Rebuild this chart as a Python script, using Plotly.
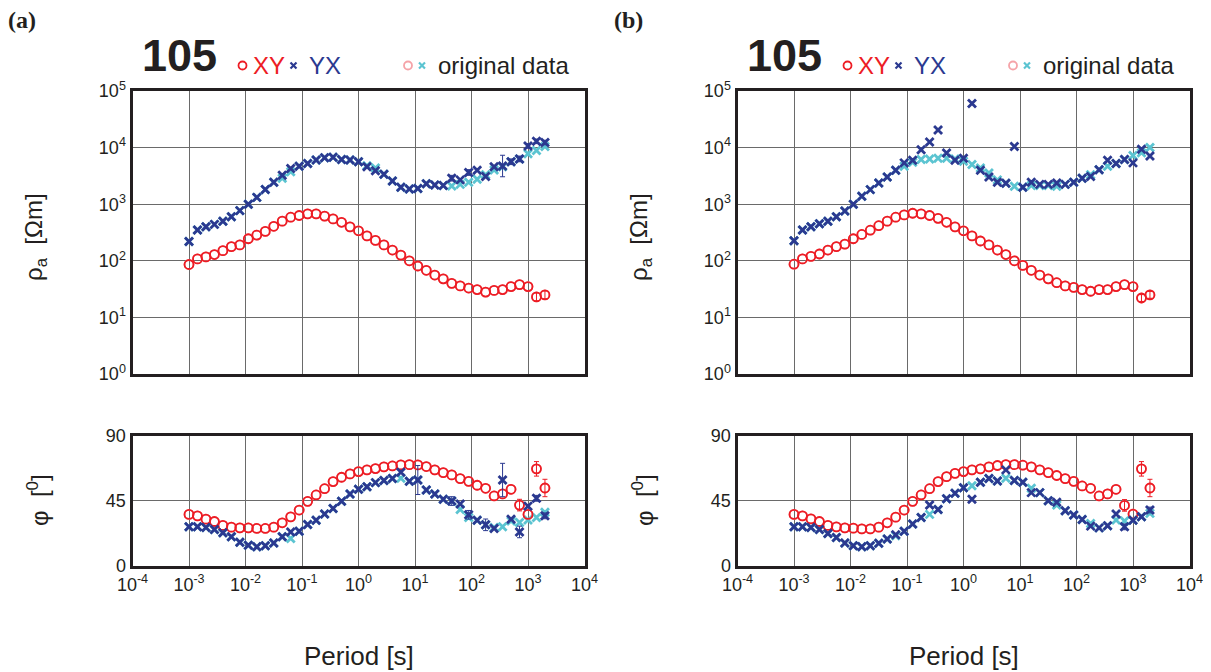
import plotly.graph_objects as go

# ---------------- data ----------------
period = [0.001, 0.001413, 0.001995, 0.002818, 0.003981, 0.005623, 0.007943,
          0.01122, 0.01585, 0.02239, 0.03162, 0.04467, 0.0631, 0.08913,
          0.1259, 0.1778, 0.2512, 0.3548, 0.5012, 0.7079, 1.0, 1.413, 1.995,
          2.818, 3.981, 5.623, 7.943, 11.22, 15.85, 22.39, 31.62, 44.67, 63.1,
          89.13, 125.9, 177.8, 251.2, 354.8, 501.2, 707.9, 1000, 1413, 1995]

# panel (a)
rho_xy_a = [86, 108, 117, 129, 151, 178, 191, 245, 285, 331, 407, 501, 589, 631,
            676, 676, 617, 550, 479, 398, 339, 275, 229, 191, 155, 126, 100, 81,
            68, 56, 48, 40, 36, 33, 31, 28, 30, 31, 35, 38, 35, 23, 25]
rho_yx_a = [220, 350, 400, 440, 500, 600, 770, 1000, 1320, 1820, 2450, 3240, 4270,
            4680, 5250, 6030, 6610, 6760, 6170, 6030, 5620, 4570, 3890, 3390, 2570,
            2000, 1860, 1900, 2290, 2190, 2140, 2880, 2690, 3630, 3980, 3090, 4570,
            4730, 5620, 6310, 10700, 12900, 12300]
rho_yx_orig_a = [220, 350, 400, 440, 500, 600, 770, 1000, 1320, 1820, 2450, 2880,
                 3760, 4680, 5250, 6030, 6610, 6760, 6170, 6030, 5620, 4790, 4370,
                 3390, 2570, 2000, 1860, 1900, 2290, 2190, 2140, 2090, 2240, 2450,
                 2750, 3310, 4030, 4570, 5620, 6310, 7760, 8910, 10470]
phs_xy_a = [35.6, 34.6, 32.3, 30.7, 28.0, 26.8, 26.3, 26.3, 25.9, 25.9,
            26.8, 29.8, 33.9, 38.6, 44.6, 49.0, 53.3, 58.2, 61.2, 63.5,
            65.1, 66.3, 67.2, 68.4, 69.0, 69.7, 69.9, 69.7, 68.6, 66.3,
            64.4, 62.8, 60.3, 58.4, 55.7, 53.6, 48.3, 49.7, 52.9, 42.0,
            35.6, 67.0, 53.8]
phs_yx_a = [27.0, 27.0, 26.6, 25.2, 22.9, 20.1, 16.4, 14.3, 13.2, 13.9,
            15.9, 20.1, 23.5, 24.0, 28.7, 31.6, 35.8, 39.7, 44.6, 49.7,
            52.9, 54.7, 57.5, 58.9, 60.3, 64.7, 58.4, 59.3, 52.4, 49.7,
            46.0, 44.8, 42.7, 35.3, 31.6, 28.4, 25.9, 59.3, 32.3, 23.5,
            41.3, 46.7, 34.6]
phs_yx_orig_a = [27.0, 27.0, 26.6, 25.2, 22.9, 20.1, 16.4, 14.3, 13.2, 13.9,
                 15.9, 20.1, 18.9, 24.0, 28.7, 31.6, 35.8, 39.7, 44.6, 49.7,
                 52.9, 54.7, 57.5, 58.9, 60.3, 60.5, 58.4, 59.3, 52.4, 49.7,
                 46.0, 44.8, 39.0, 33.5, 31.6, 28.4, 26.6, 27.0, 31.0, 30.0,
                 31.7, 33.5, 37.0]

# panel (b)
rho_xy_b = [87, 108, 120, 132, 155, 178, 197, 245, 292, 347, 417, 501, 589, 646,
            692, 676, 631, 562, 479, 398, 339, 275, 224, 191, 155, 129, 100, 83,
            68, 56, 48, 41, 36, 34, 31, 29, 31, 31, 35, 38, 35, 22, 25]
rho_yx_b = [226, 350, 400, 450, 500, 600, 760, 1000, 1380, 1810, 2370, 3020, 3980,
            5370, 5970, 9120, 12600, 20400, 8050, 5970, 6460, 60300, 3980, 3020,
            2450, 2340, 10500, 2000, 2450, 2240, 2240, 2370, 2240, 2450, 2880, 3090,
            4070, 5970, 5250, 6170, 5370, 9330, 7080]
rho_yx_orig_b = [226, 350, 400, 450, 500, 600, 760, 1000, 1380, 1810, 2370, 3020,
                 3980, 4680, 5500, 6170, 6310, 6460, 6460, 6310, 5750, 5010, 4370,
                 3550, 2690, 2340, 2070, 2000, 2140, 2140, 2140, 2070, 2240, 2450,
                 2880, 3310, 4070, 4680, 5250, 6170, 7240, 8130, 10000]
phs_xy_b = [35.6, 34.6, 32.5, 30.7, 28.0, 27.0, 26.3, 26.1, 25.6, 25.6,
            26.8, 29.8, 33.7, 38.6, 44.6, 49.0, 53.3, 58.2, 61.6, 63.9,
            65.1, 66.3, 67.0, 68.4, 69.3, 69.9, 69.9, 69.5, 68.4, 66.3,
            64.4, 62.4, 60.3, 58.4, 55.2, 53.6, 48.3, 49.7, 52.9, 41.8,
            35.8, 67.0, 53.8]
phs_yx_b = [27.0, 27.0, 26.6, 25.2, 22.4, 19.6, 15.9, 13.9, 13.2, 13.9,
            15.7, 18.7, 21.5, 24.0, 28.9, 33.5, 42.0, 39.0, 46.4, 50.1,
            54.0, 46.0, 57.7, 60.3, 58.7, 66.3, 59.0, 57.7, 50.6, 50.6,
            45.0, 43.9, 38.1, 35.1, 32.1, 27.5, 26.3, 27.7, 35.8, 27.0,
            31.6, 33.9, 38.6]
phs_yx_orig_b = [27.0, 27.0, 26.6, 25.2, 22.4, 19.6, 15.9, 13.9, 13.2, 13.9,
                 15.7, 18.7, 20.8, 24.0, 28.9, 33.5, 35.6, 39.0, 46.4, 50.1,
                 54.0, 55.4, 57.7, 60.3, 58.7, 60.5, 59.0, 57.7, 53.6, 50.6,
                 45.0, 42.0, 38.1, 35.1, 32.1, 29.3, 26.3, 27.7, 31.7, 31.0,
                 31.6, 33.9, 36.3]

# error bars (index -> error); rho errors in log10 units, phase errors in degrees
err_rho_xy_a = {41: 0.07, 42: 0.07}
err_rho_yx_a = {31: 0.05, 33: 0.05, 37: 0.19, 38: 0.05, 39: 0.05, 40: 0.04, 41: 0.04, 42: 0.04}
err_phs_xy_a = {39: 4, 41: 5, 42: 6}
err_phs_yx_a = {27: 10, 31: 3, 33: 3, 35: 4, 37: 11.5, 39: 4, 41: 2, 42: 2}
err_rho_xy_b = {41: 0.06, 42: 0.06}
err_rho_yx_b = {}
err_phs_xy_b = {39: 4, 41: 5, 42: 6}
err_phs_yx_b = {39: 2, 42: 2}

rho_ticks = [1, 10, 100, 1000, 10000, 100000]
rho_ticktext = ["10<sup>0</sup>", "10<sup>1</sup>", "10<sup>2</sup>",
                "10<sup>3</sup>", "10<sup>4</sup>", "10<sup>5</sup>"]
phs_ticks = [0, 45, 90]
phs_ticktext = ["0", "45", "90"]
per_ticks = [1e-4, 1e-3, 1e-2, 1e-1, 1, 10, 100, 1000, 10000]
per_ticktext = ["10<sup>-4</sup>", "10<sup>-3</sup>", "10<sup>-2</sup>",
                "10<sup>-1</sup>", "10<sup>0</sup>", "10<sup>1</sup>",
                "10<sup>2</sup>", "10<sup>3</sup>", "10<sup>4</sup>"]

# ---------------- styles ----------------
W, H = 1211, 672
RED = "#ed1c24"
BLUE = "#2b3990"
CYAN = "#5bc4d1"
PINK = "#f5a3a8"
INK = "#231f20"
GRID = "#6a6a6a"
FONT = "Liberation Sans, Arial, sans-serif"


def px(x):
    return x / W


def py(y):
    return 1 - y / H


fig = go.Figure()

panels = [
    dict(ax=("x", "y", "x2", "y2"), rxy=rho_xy_a, ryx=rho_yx_a, ryxo=rho_yx_orig_a,
         pxy=phs_xy_a, pyx=phs_yx_a, pyxo=phs_yx_orig_a,
         e=(err_rho_xy_a, err_rho_yx_a, err_phs_xy_a, err_phs_yx_a)),
    dict(ax=("x3", "y3", "x4", "y4"), rxy=rho_xy_b, ryx=rho_yx_b, ryxo=rho_yx_orig_b,
         pxy=phs_xy_b, pyx=phs_yx_b, pyxo=phs_yx_orig_b,
         e=(err_rho_xy_b, err_rho_yx_b, err_phs_xy_b, err_phs_yx_b)),
]

CW, XW = 1.8, 2.8


def circ(color):
    return dict(symbol="circle-open", size=9, color=color, line=dict(width=CW, color=color))


def xmk(color):
    return dict(symbol="x-thin", size=8, color=color, line=dict(width=XW, color=color))


def add_err(vals, d, xa, ya, color, logscale):
    if not d:
        return
    idx = sorted(d)
    xs = [period[i] for i in idx]
    ys = [vals[i] for i in idx]
    if logscale:
        plus = [vals[i] * (10 ** d[i] - 1) for i in idx]
        minus = [vals[i] * (1 - 10 ** -d[i]) for i in idx]
    else:
        plus = [d[i] for i in idx]
        minus = plus
    fig.add_trace(go.Scatter(x=xs, y=ys, mode="markers", xaxis=xa, yaxis=ya,
                             marker=dict(size=1, opacity=0), hoverinfo="skip",
                             error_y=dict(type="data", array=plus, arrayminus=minus,
                                          symmetric=False, visible=True, color=color,
                                          thickness=1, width=2.5)))


for p in panels:
    xr, yr, xp, yp = p["ax"]
    erx, ery, epx, epy = p["e"]
    # original data (underneath)
    fig.add_trace(go.Scatter(x=period, y=p["rxy"], mode="markers", xaxis=xr, yaxis=yr, marker=circ(PINK)))
    fig.add_trace(go.Scatter(x=period, y=p["ryxo"], mode="markers", xaxis=xr, yaxis=yr, marker=xmk(CYAN)))
    fig.add_trace(go.Scatter(x=period, y=p["pxy"], mode="markers", xaxis=xp, yaxis=yp, marker=circ(PINK)))
    fig.add_trace(go.Scatter(x=period, y=p["pyxo"], mode="markers", xaxis=xp, yaxis=yp, marker=xmk(CYAN)))
    # processed data
    fig.add_trace(go.Scatter(x=period, y=p["rxy"], mode="markers", xaxis=xr, yaxis=yr, marker=circ(RED)))
    fig.add_trace(go.Scatter(x=period, y=p["ryx"], mode="markers", xaxis=xr, yaxis=yr, marker=xmk(BLUE)))
    fig.add_trace(go.Scatter(x=period, y=p["pxy"], mode="markers", xaxis=xp, yaxis=yp, marker=circ(RED)))
    fig.add_trace(go.Scatter(x=period, y=p["pyx"], mode="markers", xaxis=xp, yaxis=yp, marker=xmk(BLUE)))
    add_err(p["rxy"], erx, xr, yr, RED, True)
    add_err(p["ryx"], ery, xr, yr, BLUE, True)
    add_err(p["pxy"], epx, xp, yp, RED, False)
    add_err(p["pyx"], epy, xp, yp, BLUE, False)

axis_common = dict(showline=True, mirror=True, linecolor=INK, linewidth=3,
                   showgrid=True, gridcolor=GRID, gridwidth=1.3, zeroline=False,
                   automargin=False,
                   ticks="", tickfont=dict(family=FONT, size=18, color=INK))

rho_dom = [py(374), py(91)]
phs_dom = [py(566), py(435.5)]
xa_dom = [px(132.5), px(584.5)]
xb_dom = [px(737.5), px(1189.5)]

layout = dict(
    width=W, height=H, autosize=False, showlegend=False,
    margin=dict(l=0, r=0, t=0, b=0, pad=0, autoexpand=False),
    paper_bgcolor="white", plot_bgcolor="white",
    font=dict(family=FONT, color=INK),
)

for xname, yname, xdom, anchor_x, anchor_y in [("xaxis", "yaxis", xa_dom, "y", "x"),
                                                 ("xaxis3", "yaxis3", xb_dom, "y3", "x3")]:
    layout[xname] = dict(axis_common, type="log", range=[-4, 4], domain=xdom,
                         anchor=anchor_x, tickvals=per_ticks, showticklabels=False)
    layout[yname] = dict(axis_common, type="log", range=[0, 5], domain=rho_dom,
                         anchor=anchor_y, tickvals=rho_ticks, ticktext=rho_ticktext)

for xname, yname, xdom, anchor_x, anchor_y in [("xaxis2", "yaxis2", xa_dom, "y2", "x2"),
                                                 ("xaxis4", "yaxis4", xb_dom, "y4", "x4")]:
    layout[xname] = dict(axis_common, type="log", range=[-4, 4], domain=xdom,
                         anchor=anchor_x, tickvals=per_ticks, ticktext=per_ticktext)
    layout[yname] = dict(axis_common, range=[0, 90], domain=phs_dom,
                         anchor=anchor_y, tickvals=phs_ticks, ticktext=phs_ticktext)

fig.update_layout(**layout)

annotations = []
shapes = []


def ann(x, y, text, size, color=INK, family=FONT, xanchor="center", angle=0):
    annotations.append(dict(x=px(x), y=py(y), xref="paper", yref="paper", text=text,
                            showarrow=False, xanchor=xanchor, yanchor="middle",
                            textangle=angle,
                            font=dict(family=family, size=size, color=color)))


def circle_shape(cx, cy, r, color):
    shapes.append(dict(type="circle", xref="paper", yref="paper",
                       x0=px(cx - r), x1=px(cx + r), y0=py(cy + r), y1=py(cy - r),
                       line=dict(color=color, width=1.8)))


def x_shape(cx, cy, r, color):
    for (x0, y0, x1, y1) in [(cx - r, cy - r, cx + r, cy + r), (cx - r, cy + r, cx + r, cy - r)]:
        shapes.append(dict(type="line", xref="paper", yref="paper",
                           x0=px(x0), y0=py(y0), x1=px(x1), y1=py(y1),
                           line=dict(color=color, width=2.2)))


for off, lab in [(0, "(a)"), (605, "(b)")]:
    ann(6 + off + (1 if off else 0), 20, "<b>" + lab + "</b>", 24,
        family="Liberation Serif, Times New Roman, serif", xanchor="left")
    ann(140 + off, 55, "<b>105</b>", 45, xanchor="left")
    circle_shape(242.5 + off, 65.5, 4, RED)
    ann(251 + off, 65, "XY", 24, color=RED, xanchor="left")
    x_shape(293.5 + off, 65.5, 3, BLUE)
    ann(307 + off, 65, "YX", 24, color=BLUE, xanchor="left")
    circle_shape(408 + off, 65.5, 4, PINK)
    x_shape(422 + off, 65.5, 3, CYAN)
    ann(436 + off, 65, "original data", 24, xanchor="left")
    ann(36 + off, 237, "ρ<sub>a</sub>  [Ωm]", 24, angle=-90)
    ann(38 + off, 500, "φ  [<sup>0</sup>]", 24, angle=-90)
    ann(358.5 + off, 656, "Period [s]", 26)

fig.update_layout(annotations=annotations, shapes=shapes)

fig.write_html("out.html",
               post_script="document.body.style.margin='0';document.body.style.overflow='hidden';")
